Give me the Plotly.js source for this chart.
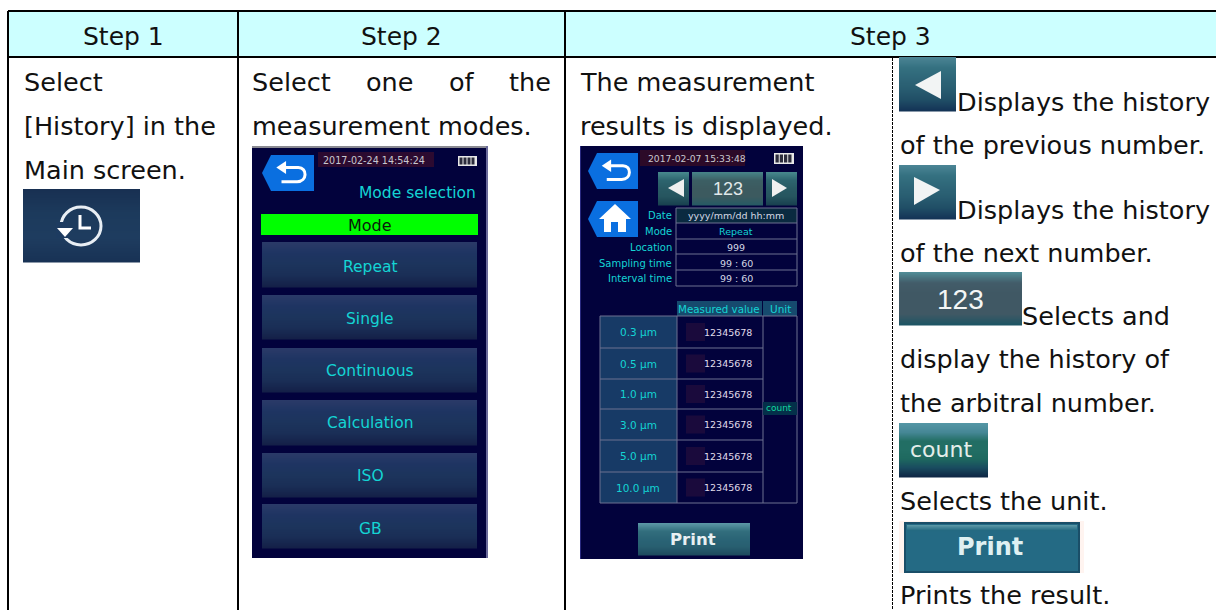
<!DOCTYPE html>
<html><head><meta charset="utf-8">
<script src="https://cdn.plot.ly/plotly-3.0.1.min.js"></script>
<style>html,body{margin:0;padding:0;background:#fff}#c{width:1216px;height:610px}</style>
</head><body><div id="c"></div>
<script>
// ---- content ----
const stepHeaders = ["Step 1", "Step 2", "Step 3"];
const step1Lines = ["Select", "[History] in the", "Main screen."];
const step2Words = ["Select", "one", "of", "the"];
const step2Line2 = "measurement modes.";
const step3Lines = ["The measurement", "results is displayed."];
const noteLines = ["Displays the history", "of the previous number.", "Displays the history", "of the next number.",
  "Selects and", "display the history of", "the arbitral number.", "Selects the unit.", "Prints the result."];
const modeNames = ["Repeat", "Single", "Continuous", "Calculation", "ISO", "GB"];
const infoLabels = ["Date", "Mode", "Location", "Sampling time", "Interval time"];
const infoValues = ["yyyy/mm/dd hh:mm", "Repeat", "999", "99 : 60", "99 : 60"];
const sizeLabels = ["0.3 µm", "0.5 µm", "1.0 µm", "3.0 µm", "5.0 µm", "10.0 µm"];
const measuredValues = ["12345678", "12345678", "12345678", "12345678", "12345678", "12345678"];

// ---- placement (page pixels) ----
const F = "DejaVu Sans", TS = 25.5, INK = "#111111", CY = "#14d4d4", NAVY = "#02023c";
const shapes = [], ann = [];
const rect = (x0,y0,x1,y1,fill,lc,lw) => shapes.push({type:"rect",x0,y0,x1,y1,fillcolor:fill||"rgba(0,0,0,0)",line:{width:lw||0,color:lc||"rgba(0,0,0,0)"},layer:"above"});
const line = (x0,y0,x1,y1,c,w,dash) => shapes.push({type:"line",x0,y0,x1,y1,line:{color:c,width:w,dash:dash||"solid"},layer:"above"});
const path = (d,fill,lc,lw) => shapes.push({type:"path",path:d,fillcolor:fill||"rgba(0,0,0,0)",line:{width:lw||0,color:lc||"rgba(0,0,0,0)"},layer:"above"});
const txt = (x,y,text,size,color,anchor,font) => ann.push({x:(anchor?x:x-1),y,text,showarrow:false,xanchor:anchor||"left",yanchor:"middle",borderpad:0,font:{family:font||F,size,color}});
const mix = (a,b,t) => "rgb("+a.map((v,i)=>Math.round(v+(b[i]-v)*t)).join(",")+")";
function grad(x0,y0,x1,y1,stops){ // vertical gradient built of thin strips
  const n = Math.max(2,Math.round(y1-y0));
  for(let i=0;i<n;i++){
    const t=i/(n-1)*(stops.length-1), k=Math.min(Math.floor(t),stops.length-2);
    rect(x0,y0+(y1-y0)*i/n,x1,y0+(y1-y0)*(i+1)/n+0.5,mix(stops[k],stops[k+1],t-k));
  }
}
const tealStops=[[74,132,148],[52,112,128],[46,102,120],[40,92,112],[32,78,102],[20,52,86]];
const hex=(x0,y0,x1,y1,c)=>path(`M${x0+9},${y0} L${x1},${y0} L${x1},${y1} L${x0+9},${y1} L${x0},${(y0+y1)/2} Z`,c);
function backArrow(cx,cy,s){
  path(`M${cx+s*0.8},${cy-s*0.35} L${cx-s*0.3},${cy-s*0.35} M${cx+s*0.8},${cy-s*0.35} C${cx+s*1.5},${cy-s*0.35} ${cx+s*1.5},${cy+s*0.75} ${cx+s*0.7},${cy+s*0.75} L${cx-s*0.5},${cy+s*0.75}`,null,"#ffffff",3);
  path(`M${cx-s*0.9},${cy-s*0.35} L${cx-s*0.15},${cy-s*0.85} L${cx-s*0.15},${cy+s*0.15} Z`,"#ffffff");
}
function battery(x0,y0,x1,y1){
  rect(x0,y0,x1,y1,"#e8e8e8");
  const n=4,w=(x1-x0-3)/n;
  for(let i=0;i<n;i++) rect(x0+1.5+i*w,y0+1.5,x0+1.5+i*w+w-1,y1-1.5,"#2c2c3c");
}

// table frame
rect(8,11,1216,57,"#ccffff");
line(8,11,1216,11,"#000",2); line(8,57,1216,57,"#000",2);
line(8,11,8,610,"#000",2); line(238,11,238,610,"#000",2); line(565,11,565,610,"#000",2);
line(892.5,58,892.5,610,"#000",1,"3px,1px");
txt(123,36,stepHeaders[0],TS-0.5,INK,"center");
txt(401,36,stepHeaders[1],TS-0.5,INK,"center");
txt(890,36,stepHeaders[2],TS-0.5,INK,"center");

// step 1
const s1Y=[82,126,170];
step1Lines.forEach((t,i)=>txt(24,s1Y[i],t,TS,INK));
grad(23,189,140,262,[[24,48,82],[28,58,92],[30,60,95],[24,50,85]]);
shapes.push({type:"circle",x0:61,y0:207,x1:101,y1:245,line:{color:"#e8eef4",width:3},fillcolor:"rgba(0,0,0,0)",layer:"above"});
rect(56,222,68,238,"#1d3b60");
path("M57,228 L73,228 L65,237 Z","#ffffff");
path("M80,215 L80,228 L91,228",null,"#ffffff",3);

// step 2 text
const s2X=[252,366,449,509];
step2Words.forEach((t,i)=>txt(s2X[i],82,t,TS,INK));
txt(252,126,step2Line2,TS,INK);

// mode screen
rect(252,146,488,558,NAVY);
rect(252,146,488,148,"#8a8a92"); rect(486,146,488,558,"#6a6a9a");
hex(262,155,314,191,"#0a6fe0"); backArrow(288,172,13);
rect(318,152,434,167,"#2c0a30");
txt(374,160,"2017-02-24 14:54:24",9.6,"#c8c8d0","center");
battery(458,156,477,166);
txt(477,193,"Mode selection",15.5,CY,"right");
rect(261,214,478,235,"#00ff00");
txt(370,225,"Mode",16,"#0a1a0a","center");
const modeTop=[242,295,348,400,453,504], modeBot=[287,339,392,445,497,548];
const modeTextY=[267,319,371,423,476,529];
modeNames.forEach((t,i)=>{
  grad(262,modeTop[i],477,modeBot[i],[[42,58,104],[30,52,98],[28,52,92],[26,46,86],[20,32,72]]);
  txt(370,modeTextY[i],t,15.5,CY,"center");
});

// step 3 text
const s3Y=[82,126];
step3Lines.forEach((t,i)=>txt(580,s3Y[i],t,TS,INK));

// result screen
rect(580,146,803,559,NAVY);
rect(580,146,581,559,"#2a2a80");
rect(640,150,745,166,"#2c0a28");
txt(697,158,"2017-02-07 15:33:48",9.2,"#c8c8d0","center");
battery(774,153,794,164);
hex(588,153,638,189,"#0a6fe0"); backArrow(613,170,12.5);
hex(588,201,638,237,"#0a6fe0");
path("M615,204 L631,219 L626,219 L626,232 L604,232 L604,219 L599,219 Z","#ffffff");
rect(611,222,618,232,"#0a6fe0");
const navStops=[[70,135,140],[45,100,110],[40,90,100],[38,85,95],[25,65,80]];
grad(658,172,689,205,navStops); grad(766,172,797,205,navStops);
grad(692,172,763,205,[[70,130,135],[60,95,100],[60,90,95],[60,90,95],[40,90,100]]);
path("M684,179 L684,197 L668,188 Z","#f0f0f0");
path("M772,179 L772,197 L787,188 Z","#f0f0f0");
txt(728,189,"123",18,"#e0e8ea","center","Liberation Sans");
// info table
const infoY=[215,231,247,263,278], infoRows=[208,223,239,254,270,286];
rect(676,208,797,223,"#0a2a40");
infoRows.forEach(y=>line(676,y,797,y,"#6c7090",1));
line(676,208,676,286,"#6c7090",1); line(797,208,797,286,"#6c7090",1);
infoLabels.forEach((t,i)=>{
  txt(673,infoY[i],t,10,CY,"right");
  txt(736,infoY[i],infoValues[i],9.5,i===1?CY:"#d4d8e4","center");
});
// measured table
rect(677,301,762,316,"#164a6e"); rect(763,301,797,316,"#164a6e");
txt(719,309,"Measured value",10.3,CY,"center");
txt(780,309,"Unit",10.5,CY,"center");
const rowY=[316,348,379,409,440,472,503];
rect(600,316,677,503,"#173a66");
rowY.forEach((y,i)=>line(600,y,i===0||i===6?797:763,y,"#6c7090",1));
[600,677,763,797].forEach(x=>line(x,316,x,503,"#6c7090",1));
sizeLabels.forEach((t,i)=>{
  const y=(rowY[i]+rowY[i+1])/2;
  rect(686,y-9,705,y+9,"#1a0a3c");
  txt(638,y,t,10.5,CY,"center");
  txt(728,y,measuredValues[i],9.5,"#e0dcea","center");
});
rect(763,402,797,415,"#04304a");
txt(779,408,"count",9,"#12d8a0","center");
grad(638,523,750,555,[[90,150,165],[50,110,125],[42,100,118],[40,95,112],[30,75,95]]);
txt(693,539,"<b>Print</b>",16.5,"#e8f0f2","center");

// notes column
grad(899,57,956,111,tealStops);
path("M915,85 L941,71 L941,99 Z","#f2f4f4");
grad(899,165,956,219,tealStops);
path("M914,177 L914,205 L940,190 Z","#f2f4f4");
grad(899,272,1022,325,[[80,140,150],[66,92,105],[64,88,100],[64,88,100],[64,88,100],[30,85,100]]);
txt(960,299,"123",28,"#f4f6f6","center","Liberation Sans");
grad(899,423,988,477,[[84,150,165],[70,135,150],[34,110,100],[34,110,100],[30,105,95],[25,75,95],[15,40,70]]);
txt(941,449,"count",22,"#e4eeea","center");
rect(899,521,1084,573,"#fff4f0");
shapes.push({type:"rect",x0:905,y0:523,x1:1079,y1:572,fillcolor:"#246a84",line:{width:2,color:"#1a4e68"},layer:"above"});
grad(907,525,1077,531,[[90,150,165],[36,106,130]]);
txt(990,547,"<b>Print</b>",24,"#dff0f2","center");
const noteX=[957,900,957,900,1022,900,900,900,900], noteY=[102,145,210,253,316,359,403,501,595];
noteLines.forEach((t,i)=>txt(noteX[i],noteY[i],t,TS,INK));

Plotly.newPlot("c",[{x:[],y:[],type:"scatter",mode:"markers",hoverinfo:"skip",showlegend:false}],{
  width:1216,height:610,margin:{l:0,r:0,t:0,b:0,pad:0},paper_bgcolor:"#fff",plot_bgcolor:"#fff",showlegend:false,
  xaxis:{range:[0,1216],visible:false,fixedrange:true},
  yaxis:{range:[610,0],visible:false,fixedrange:true},
  shapes,annotations:ann
},{displayModeBar:false,staticPlot:true});
</script></body></html>
